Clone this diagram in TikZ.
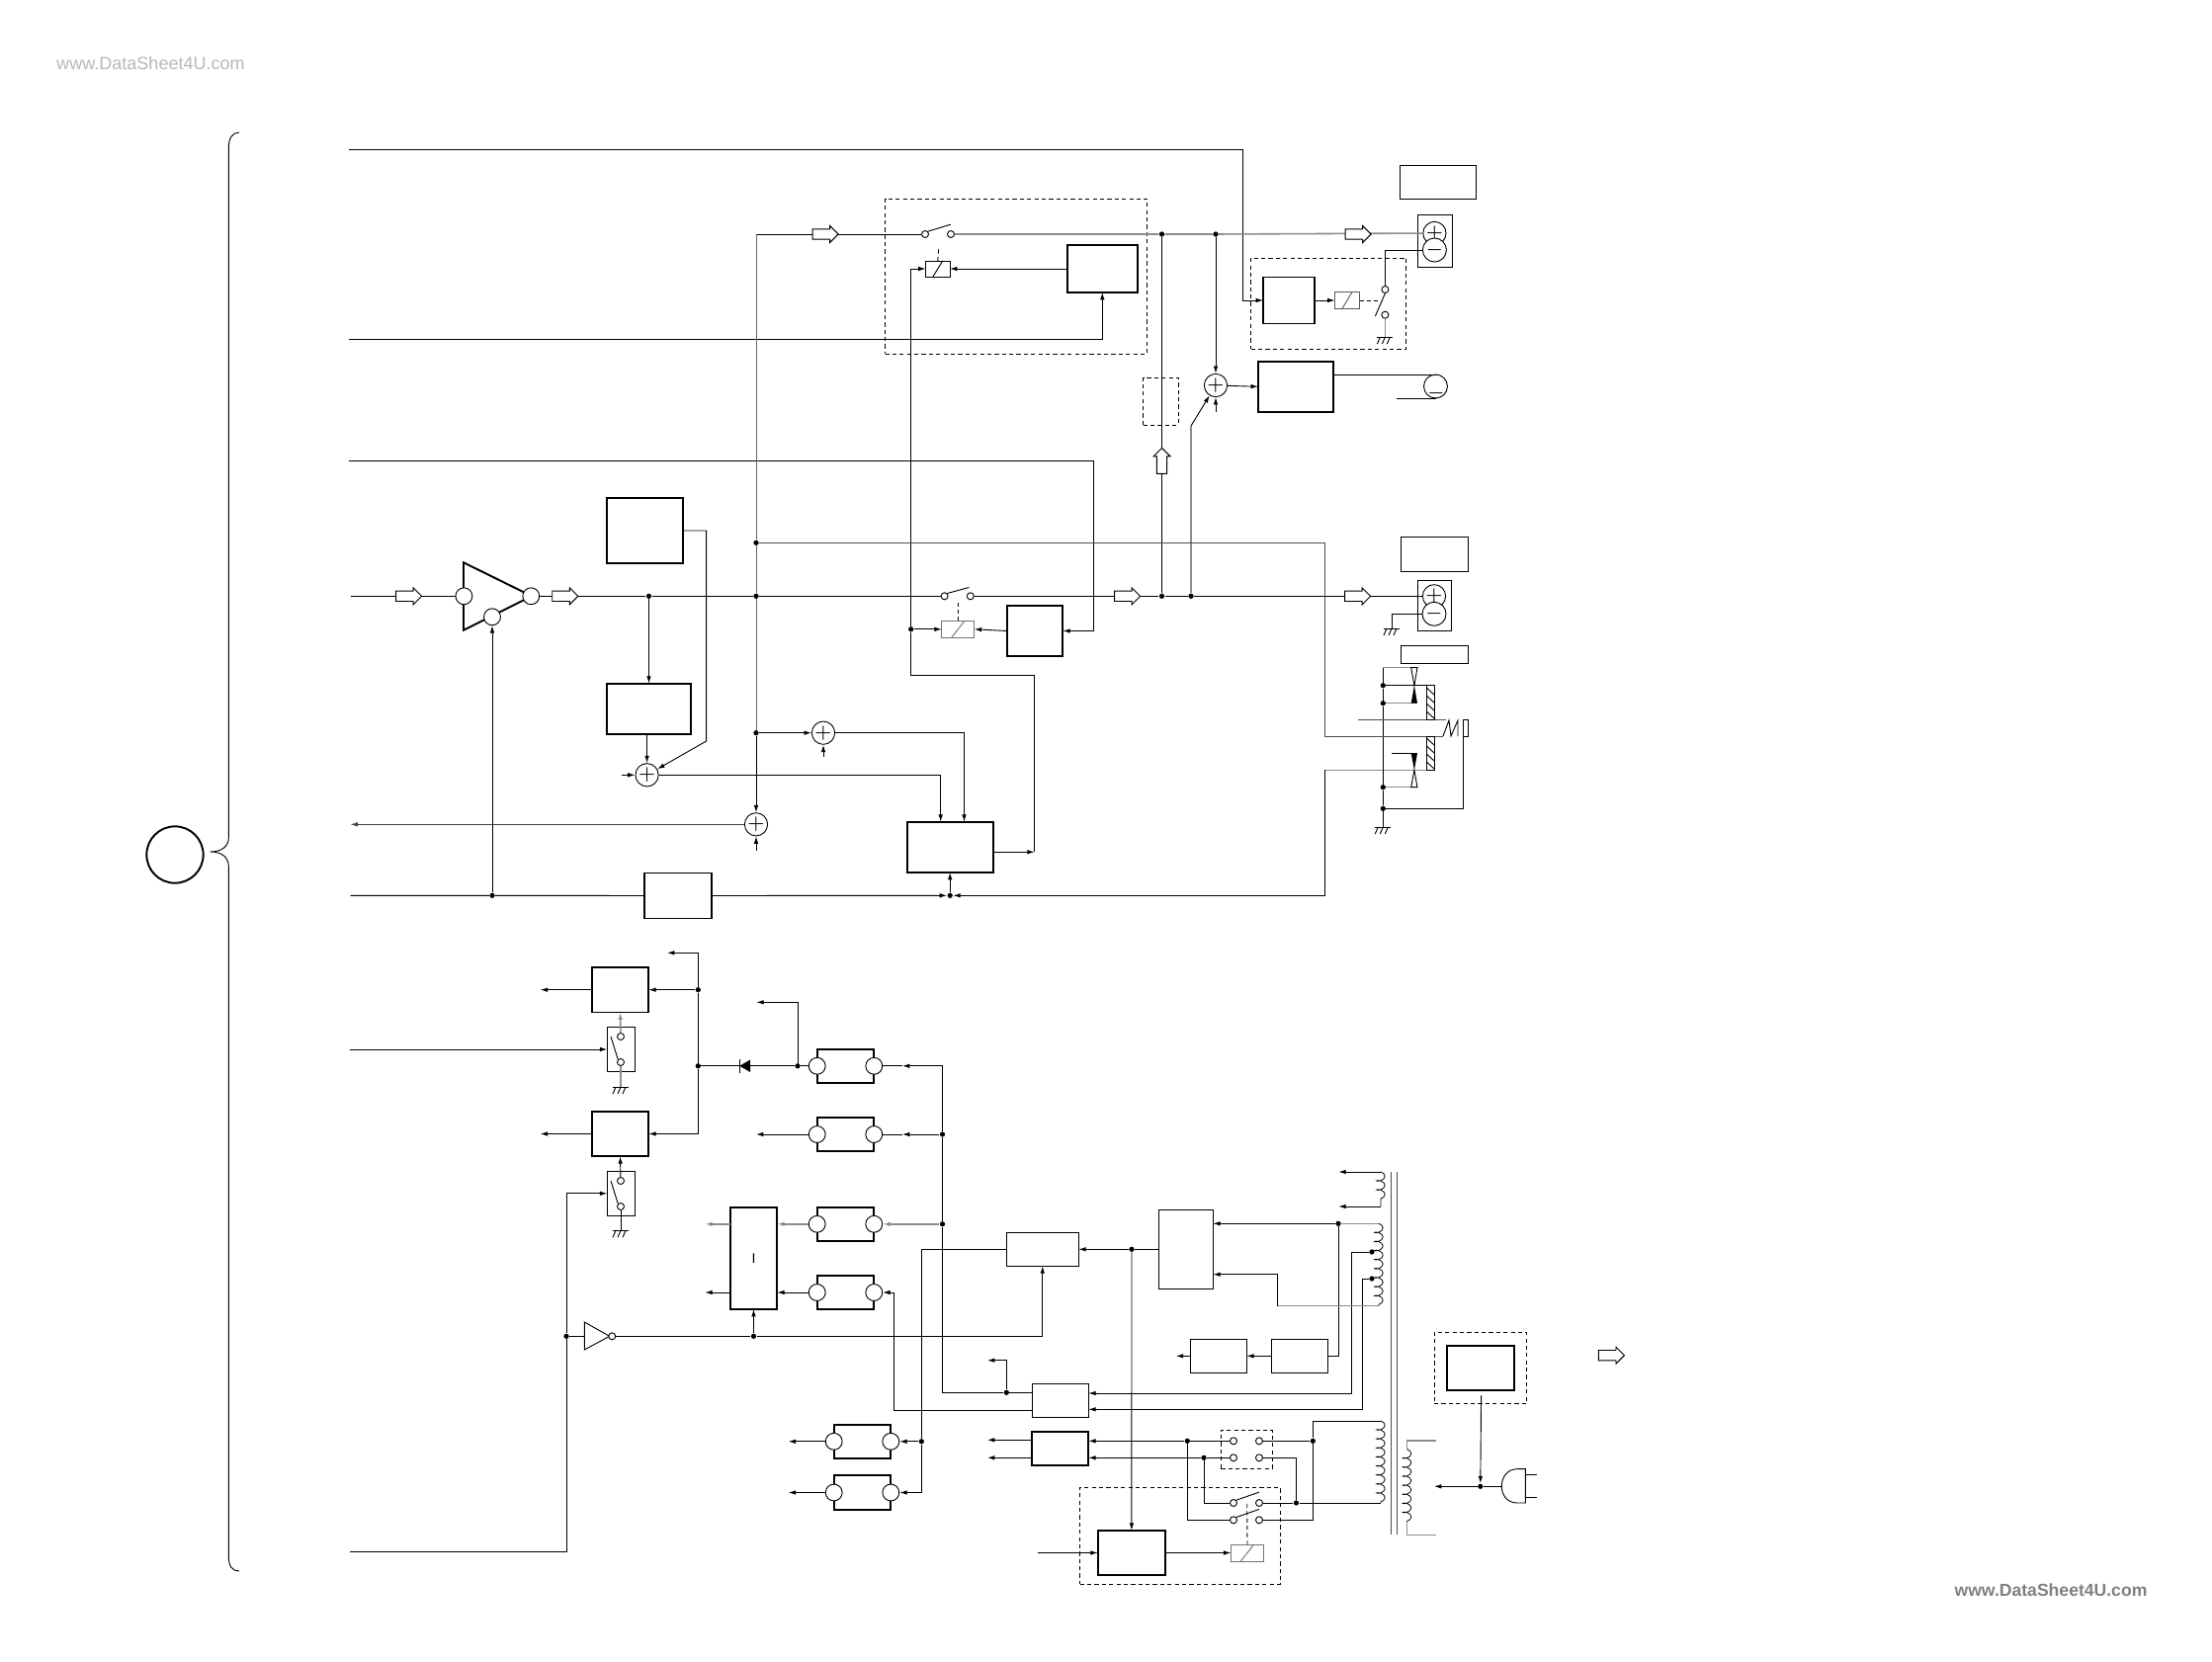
\documentclass[tikz,border=0pt]{standalone}
\usepackage{fontspec}
\setmainfont{Liberation Sans}
\usetikzlibrary{arrows.meta,calc,decorations.pathmorphing,shapes.arrows}

\begin{document}
\begin{tikzpicture}[>=Latex, x=0.01cm, y=-0.01cm, line width=.26pt,
    wh/.style 2 args={minimum width=#1*0.01cm, minimum height=#2*0.01cm},
    block/.style={draw, rectangle, inner sep=0pt, outer sep=0pt, line width=.55pt},
    thinblock/.style={draw, rectangle, inner sep=0pt, outer sep=0pt},
    dashbox/.style={draw, rectangle, inner sep=0pt, dash pattern=on 1.2pt off .9pt},
    relay/.style={thinblock, path picture={\draw ($(path picture bounding box.south west)!.3!(path picture bounding box.south east)$) -- ($(path picture bounding box.north west)!.7!(path picture bounding box.north east)$);}},
    arrow/.style={-{Latex[length=2.1pt,width=1.3pt]}},
    faint/.style={draw=black!45, line width=.45pt},
    linkdash/.style={dash pattern=on 1.2pt off .9pt},
    dot/.style={circle, fill=black, inner sep=0pt, minimum size=1.5pt},
    term/.style={circle, draw, fill=white, inner sep=0pt, minimum size=2pt},
    port/.style={circle, draw, fill=white, inner sep=0pt, minimum size=4.8pt},
    sumj/.style={circle, draw, fill=white, inner sep=0pt, minimum size=4.8pt, font=\fontsize{5}{5}\selectfont},
    hollow/.style={single arrow, draw, fill=white, inner sep=1.3pt, minimum width=4.8pt, minimum height=7.4pt, single arrow head extend=.9pt},
    winding/.style={decorate, decoration={coil, aspect=.5, amplitude=1.2pt, segment length=2.6pt}, line width=.22pt},
    gnd/.pic={\draw (-8,0) -- (8,0); \foreach \i in {-5,0,5} \draw (\i,0) -- (\i-3,7);}
  ]
    \useasboundingbox (0,0) rectangle (2238,1682);
    \node[text=black!28, font=\fontsize{5.13}{6}\selectfont] (wmA) at (152.5,64) {www.DataSheet4U.com};
    \node[text=black!50, font=\fontsize{5}{6}\selectfont\bfseries] (wmB) at (2075,1609) {www.DataSheet4U.com};

    \node[dashbox, wh={265}{157}] (areaA) at (1028,279.5) {};
    \node[dashbox, wh={157}{92}] (areaB) at (1344.2,307) {};
    \node[dashbox, wh={35.4}{48}] (areaC) at (1174.3,406) {};
    \node[dashbox, wh={52}{39}] (areaD) at (1261.3,1466.8) {};
    \node[dashbox, wh={202.8}{98}] (areaE) at (1194,1554.3) {};
    \node[dashbox, wh={93.5}{72}] (areaF) at (1497.8,1384.3) {};

    \node[circle, draw, line width=.55pt, inner sep=0pt, minimum size=16.3pt] (cir) at (177,865) {};
    \node[block, wh={71.4}{48}] (ctl) at (1115.3,272) {};
    \node[block, wh={52}{47}] (dly) at (1304,304) {};
    \node[block, wh={76}{51.3}] (mot) at (1311,391.3) {};
    \node[thinblock, wh={77}{34}] (labA) at (1455,184) {};
    \node[thinblock, wh={35}{53}] (conA) at (1451.5,243.5) {};
    \node[thinblock, wh={68.7}{35}] (labB) at (1451.3,560.5) {};
    \node[thinblock, wh={34.7}{51}] (conB) at (1451.3,612.5) {};
    \node[thinblock, wh={68.7}{17.7}] (labC) at (1451.3,662.8) {};
    \node[block, wh={77}{66.6}] (blkA) at (652.4,537) {};
    \node[block, wh={85.3}{51.3}] (blkB) at (656.5,717.3) {};
    \node[block, wh={86.8}{51.3}] (blkC) at (961.2,857.3) {};
    \node[block, wh={56.7}{51.6}] (blkD) at (1047,638.5) {};
    \node[block, wh={68.8}{46}] (blkE) at (686,906.5) {};
    \node[block, wh={57.6}{45.6}] (blkF) at (627.5,1001.7) {};
    \node[block, wh={57.6}{45.6}] (blkG) at (627.5,1147.5) {};
    \node[thinblock, wh={28.4}{45.4}] (swA) at (628.5,1062) {};
    \node[thinblock, wh={28.4}{45}] (swB) at (628.5,1207.8) {};
    \node[block, wh={47.6}{103.3}, font=\fontsize{4}{4}\selectfont] (blkI) at (762.5,1273.3) {I};
    \node[thinblock, wh={73}{34}] (blkJ) at (1054.8,1264.3) {};
    \node[thinblock, wh={54.9}{80}] (blkK) at (1199.9,1264.3) {};
    \node[thinblock, wh={57}{34}] (blkM) at (1072.8,1417.3) {};
    \node[block, wh={57}{34.3}] (blkN) at (1072.8,1465.9) {};
    \node[block, wh={68.3}{45.6}] (blkL) at (1144.9,1571.5) {};
    \node[thinblock, wh={56.6}{34}] (blkP) at (1233,1372.3) {};
    \node[thinblock, wh={57}{34}] (blkQ) at (1315.1,1372.3) {};
    \node[block, wh={68.2}{45.6}] (fus) at (1497.9,1384.5) {};

    \node[relay, wh={24.4}{16}] (relA) at (948.8,272) {};
    \node[relay, wh={25}{16.7}, draw=black!65] (relB) at (1363,304) {};
    \node[relay, wh={33}{17}, draw=black!55] (relC) at (969.3,636.8) {};
    \node[relay, wh={33.3}{17}, draw=black!55] (relD) at (1262,1571.5) {};

    \foreach \nm/\xx/\yy in {regA/855.5/1078.8, regB/855.5/1148, regC/855.5/1238.8, regD/855.5/1308, regE/872.5/1458.8, regF/872.5/1510.5}{
      \node[block, wh={57.6}{34.3}] (\nm) at (\xx,\yy) {};
      \node[port] (\nm l) at (\nm.west) {};
      \node[port] (\nm r) at (\nm.east) {};
    }

    \draw[line width=.55pt] (469,569.3) -- (538,603.3) -- (469,637.7) -- cycle;
    \draw (591.3,1338) -- (616.7,1352.3) -- (591.3,1366) -- cycle;

    \foreach \nm/\xx/\yy in {ampI/469.4/603.3, ampO/537.3/603.3, ampF/498/624.3}
      \node[port] (\nm) at (\xx,\yy) {};
    \foreach \nm/\xx/\yy in {sumA/1230/390, sumB/654.6/784.3, sumC/833/741.7, sumD/765/834.3, plusA/1451.4/236, plusB/1451/603.3}
      \node[sumj] (\nm) at (\xx,\yy) {$+$};
    \foreach \nm/\xx/\yy in {minA/1451.4/253, minB/1451/621.3}
      \node[sumj] (\nm) at (\xx,\yy) {$-$};
    \node[circle, draw, inner sep=0pt, minimum size=6.8pt] (mtr) at (1452.5,391) {};
    \node[inner sep=0pt, font=\fontsize{5}{5}\selectfont] (mtrm) at (1453,398) {$-$};

    \foreach \nm/\xx/\yy in {tA/936/237, tB/962/237, tC/1401.4/293, tD/1401.4/318.7, tE/955.6/603.3, tF/981.8/603.3, tG/628/1049, tH/628/1075, tJ/628/1195, tK/628/1221, tL/1248/1458.3, tM/1274/1458.3, tN/1248/1475.3, tO/1274/1475.3, tP/1248/1521, tQ/1274/1521, tR/1248/1538.3, tS/1274/1538.3, tinv/619.3/1352.3}
      \node[term] (\nm) at (\xx,\yy) {};

    \foreach \nm/\xx/\yy in {jA/1175.5/237, jB/1230/237, jC/765/549.3, jD/765/603.3, jE/765/741.7, jF/656.5/603.3, jG/1175.5/603.3, jH/1205/603.3, jI/921.7/636.8, jJ/961.2/906.3, jK/498/906.3, jL/1399.3/693.7, jM/1399.3/711.7, jN/1399.3/796.7, jO/1399.3/818.3, kA/706.3/1001.7, kB/706.3/1078.8, kC/807/1078.8, kD/953.5/1148, kE/953.5/1238.8, kF/762.5/1352.3, kG/573/1352.3, kH/932.3/1458.8, kI/1145/1264.3, kJ/1018.3/1409.3, kK/1354/1238.3, kL/1388/1267, kM/1388/1294, kN/1201.3/1458.3, kO/1218/1475.3, kP/1328.3/1458.3, kQ/1311.5/1521, kR/1497.8/1504.3}
      \node[dot] (\nm) at (\xx,\yy) {};

    \foreach \nm/\xx/\yy in {inA/353/151, cA/1257.5/304, inB/353/343, inC/353/466, cC/1106.7/638.5, inD/354.5/603.3, inE/354.5/906.3, outA/354.5/834.3, topA/765/237, cD/714.7/537, cE/714.7/750, sumBl/629.4/784.3, cinA/951.7/831.7, cinB/975.5/831.7, sumCb/833/765.7, sumDb/765/860.7, sumAb/1230/417, cF/1205/431, cG/1340/779.3, hkB/1451/779.3, coA/1004.6/862.3, coB/1046.7/862.3, coC/1046.7/683.3, coD/921.7/683.3, coE/921.7/272, motA/1349/379, motB/1452.5/379, motC/1412.6/403, motD/1452.5/403, dashA/1396/304, gndA/1401.4/341, gndB/1408/636, gndC/1399.3/837, gndD/628/1100, gndE/628/1245.3, busT/1399.3/675.7, hgA/1434/675.7, hkA/1451/693.7, hgB/1434/711.7, hgC/1434/796.7, hgD/1408.3/762.3, hgE/1434/762.3, cH/1340/549.3, cI/1340/745, zA/1460/745, zB/1466/729, zC/1468/745, zD/1475/729, zE/1475/745, rodA/1374/728, rodB/1463/728, cJ/1480.7/818.3, cK/1480.7/745}
      \coordinate (\nm) at (\xx,\yy);

    \foreach \nm/\xx/\yy in {outB/546.7/1001.7, outC/546.7/1147.5, outD/675/964.3, cL/706.3/964.3, cM/706.3/1147.5, inF/354/1062, inG/354/1570, cN/573/1570, cO/573/1207.8, outE/765.3/1014.3, cP/807/1014.3, cQ/953.5/1078.8, tipA/913/1078.8, tipB/913/1148, outF/765/1148, iA/786.3/1238.8, iB/786.3/1308, outG/713.3/1238.8, outH/713.3/1308, iC/738.7/1238.8, iD/738.7/1308, cR/904.3/1308, cS/904.3/1427.7, mA/1044.3/1427.7, mB/1044.3/1409.3, cT/953.5/1409.3, cU/1018.3/1376.7, outJ/999/1376.7, cV/932.3/1264.3, cW/932.3/1510.5, outK/797.7/1458.8, outM/797.7/1510.5, inH/1050/1571.5, nA/1044.3/1457.3, nB/1044.3/1475.3, outN/999/1457.3, outO/999/1475.3, nC/1101.3/1458.3, nD/1101.3/1475.3, cX/1378.4/1294, cY/1378.4/1426.3, mC/1101.3/1426.3, cZ/1367.3/1267, dA/1367.3/1410, mD/1101.3/1410, kA1/1227.3/1238.3, wBt/1395/1238.3, wBb/1395/1321.7, dB/1292.3/1321.7, dC/1292.3/1289.7, kA2/1227.3/1289.7, wAt/1397/1186, wAb/1397/1221, outP/1354.3/1186, outQ/1354.3/1221, wCt/1397/1438, wCb/1397/1521, dD/1328.3/1438, dE/1328.3/1538.3, dF/1311.5/1475.3, dG/1218/1521, dH/1201.3/1538.3, dashB/1261.7/1521, fusB/1498.6/1412.3, plugL/1519.3/1504.3, outR/1451/1504.3, prTa/1453/1458, prTb/1423.6/1458, prTc/1423.6/1466.7, prBc/1423.6/1540, prBb/1423.6/1553.3, prBa/1453/1553.3, outS/1189.8/1372.3, coreA/1407.5/1186, coreB/1407.5/1553.3, coreC/1413.3/1186, coreD/1413.3/1553.3, rungA/1543.4/1492.3, rungB/1555.3/1492.3, rungC/1543.4/1515.3, rungD/1555.3/1515.3}
      \coordinate (\nm) at (\xx,\yy);

    \draw[arrow] (inA) -| (cA) -- (dly.west);
    \draw[arrow] (inB) -| (ctl.south);
    \draw[arrow] (inC) -| (cC) -- (blkD.east);
    \draw (inD) -- (ampI);
    \draw (ampO) -- (jF) -- (jD) -- (tE);
    \draw (tF) -- (jG) -- (jH) -- (plusB);
    \draw (topA) -- (tA);
    \draw[faint] (tB) -- (jA) -- (jB) -- (plusA);
    \draw[draw=black!60] (topA) -- (jC) -- (jD) -- (jE);
    \draw[arrow] (jE) -- (sumD);
    \draw[arrow] (jF) -- (blkB.north);
    \draw[arrow] (blkA.east) -- (cD) -- (cE) -- (sumB);
    \draw[arrow] (sumB |- blkB.south) -- (sumB);
    \draw[arrow] (sumBl) -- (sumB);
    \draw[arrow] (sumB) -| (cinA);
    \draw[arrow] (jE) -- (sumC);
    \draw[arrow] (sumC) -| (cinB);
    \draw[arrow] (sumCb) -- (sumC);
    \draw[arrow] (sumDb) -- (sumD);
    \draw[arrow, draw=black!75] (sumD) -- (outA);
    \draw (inE) -- (jK) -- (blkE.west);
    \draw[arrow] (blkE.east) -- (jJ);
    \draw[arrow] (jJ) -- (blkC.south);
    \draw[arrow] (jK) -- (ampF);
    \draw[faint] (hkB) -- (cG);
    \draw[arrow] (cG) |- (jJ);
    \draw[arrow] (coA) -- (coB);
    \draw (coB) -- (coC) -- (coD) -- (jI) -- (coE);
    \draw[arrow] (coE) -- (relA.west);
    \draw[arrow] (jI) -- (relC.west);
    \draw[arrow] (ctl.west) -- (relA.east);
    \draw[arrow] (blkD.west) -- (relC.east);
    \draw[linkdash] (relA.north) -- ++(1,-14);
    \draw[linkdash] (relC.north) -- ++(0,-18);
    \draw (tA.north east) -- ++(23,-7);
    \draw (tE.north east) -- ++(22,-6);
    \draw[arrow] (dly.east) -- (relB.west);
    \draw[linkdash] (relB.east) -- (dashA);
    \draw (minA) -| (tC);
    \draw (tC.south) -- ++(-10,23);
    \draw[faint] (tD) -- (gndA);
    \pic at (gndA) {gnd};
    \draw[arrow] (jB) -- (sumA);
    \draw[arrow] (sumAb) -- (sumA);
    \draw[faint] (jH) -- (cF);
    \draw[arrow] (cF) -- (sumA);
    \draw[arrow] (sumA) -- (mot.west);
    \draw (motA) -- (motB);
    \draw (motC) -- (motD);
    \draw (jA) -- (jG);
    \draw (minB) -| (gndB);
    \pic at (gndB) {gnd};

    \draw (busT) -- (jL) -- (jM) -- (jN) -- (jO) -- (gndC);
    \pic at (gndC) {gnd};
    \draw[faint] (busT) -- (hgA);
    \draw (jL) -- (hkA);
    \draw[faint] (jM) -- (hgB);
    \draw[faint] (jN) -- (hgC);
    \draw (hgD) -- (hgE);
    \draw[draw=black!70] (jC) -- (cH) -- (cI) -- (zA);
    \draw (zA) -- (zB) -- (zC) -- (zD) -- (zE);
    \draw[draw=black!70] (rodA) -- (rodB);
    \draw (jO) -- (cJ) -- (cK);
    \draw (1480,728) rectangle (1485.7,745);
    \draw (1443.3,693.7) rectangle (1451,728);
    \draw (1443.3,745) rectangle (1451,779.3);
    \foreach \yy in {696,704,712,720} \draw (1443.3,\yy) -- (1451,\yy+7);
    \foreach \yy in {747,755,763,771} \draw (1443.3,\yy) -- (1451,\yy+7);
    \draw (1427.7,675.7) -- (1434,675.7) -- (1430.9,693.7) -- cycle;
    \fill (1430.9,693.7) -- (1434,711.7) -- (1427.7,711.7) -- cycle;
    \fill (1427.7,762.3) -- (1434,762.3) -- (1430.9,779.3) -- cycle;
    \draw (1430.9,779.3) -- (1434,796.7) -- (1427.7,796.7) -- cycle;

    \draw[arrow] (kA) -- (blkF.east);
    \draw[arrow] (blkF.west) -- (outB);
    \draw[arrow] (kB) -- (kA) -- (cL) -- (outD);
    \draw[arrow] (kB) -- (cM) -- (blkG.east);
    \draw[arrow] (blkG.west) -- (outC);
    \draw[arrow, faint] (tG) -- (blkF.south);
    \draw[faint] (tH) -- (gndD);
    \pic at (gndD) {gnd};
    \draw (tG.west) ++(-6,0) -- (tH.north west);
    \draw[arrow] (inF) -- (swA.west);
    \draw[arrow] (tJ) -- (blkG.south);
    \draw (tK) -- (gndE);
    \pic at (gndE) {gnd};
    \draw (tJ.west) ++(-6,0) -- (tK.north west);
    \draw[arrow] (inG) -- (cN) -- (kG) -- (cO) -- (swB.west);
    \draw (kG) -- (591.3,1352.3);
    \draw (tinv) -- (kF);
    \draw[arrow] (kF) -| (blkJ.south);
    \draw[arrow] (kF) -- (blkI.south);
    \draw (kC) -- (kB);
    \fill (759,1072.5) -- (759,1085) -- (748.3,1078.8) -- cycle;
    \draw (748.3,1072) -- (748.3,1085.5);
    \draw (kC) -- (regAl);
    \draw[arrow] (kC) -- (cP) -- (outE);
    \draw[arrow] (cQ) -- (tipA);
    \draw (tipA) -- (regAr);
    \draw[arrow] (kD) -- (tipB);
    \draw (tipB) -- (regBr);
    \draw[arrow] (regBl) -- (outF);
    \draw[arrow, faint] (kE) -- (regCr);
    \draw[arrow, faint] (regCl) -- (iA);
    \draw[arrow, faint] (iC) -- (outG);
    \draw[arrow] (regDl) -- (iB);
    \draw[arrow] (iD) -- (outH);
    \draw[arrow] (cR) -- (regDr);
    \draw (cR) -- (cS) -- (mA);
    \draw (cQ) -- (kD) -- (kE) -- (cT) -- (kJ) -- (mB);
    \draw[arrow] (kJ) -- (cU) -- (outJ);
    \draw (blkJ.west) -- (cV) -- (kH);
    \draw[arrow] (kH) -- (cW) -- (regFr);
    \draw[arrow] (kH) -- (regEr);
    \draw[arrow] (regEl) -- (outK);
    \draw[arrow] (regFl) -- (outM);
    \draw (blkK.west) -- (kI);
    \draw[arrow] (kI) -- (blkJ.east);
    \draw[arrow] (kI) -- (blkL.north);
    \draw[arrow] (inH) -- (blkL.west);
    \draw[arrow] (blkL.east) -- (relD.west);
    \draw[arrow] (nA) -- (outN);
    \draw[arrow] (nB) -- (outO);
    \draw[arrow] (kN) -- (nC);
    \draw[arrow] (kO) -- (nD);
    \draw[arrow] (kM) -- (cX) -- (cY) -- (mC);
    \draw[arrow] (kL) -- (cZ) -- (dA) -- (mD);
    \draw[faint] (wBt) -- (kK);
    \draw[arrow] (kK) -- (kA1);
    \draw (kK) |- (blkQ.east);
    \draw[arrow] (blkQ.west) -- (blkP.east);
    \draw[arrow] (blkP.west) -- (outS);
    \draw[faint] (wBb) -- (dB);
    \draw[arrow] (dB) -- (dC) -- (kA2);
    \draw[arrow] (wAt) -- (outP);
    \draw[arrow] (wAb) -- (outQ);
    \draw (wCt) -- (dD) -- (kP) -- (dE) -- (tS);
    \draw (kP) -- (tM);
    \draw (tL) -- (kN);
    \draw (tN) -- (kO);
    \draw (tO) -- (dF) -- (kQ);
    \draw (kQ) -- (tQ);
    \draw (kQ) -- (wCb);
    \draw (kO) -- (dG) -- (tP);
    \draw (kN) -- (dH) -- (tR);
    \draw (tP.north east) -- ++(23,-8);
    \draw (tR.north east) -- ++(23,-8);
    \draw[linkdash] (relD.north) -- (dashB);
    \draw[arrow] (fusB) -- (kR);
    \draw (plugL) -- (kR);
    \draw[arrow] (kR) -- (outR);
    \draw (1543.4,1486.7) -- (1535,1486.7) .. controls (1525,1486.7) and (1519.3,1495) .. (plugL) .. controls (1519.3,1513) and (1525,1521) .. (1535,1521) -- (1543.4,1521) -- cycle;
    \draw (rungA) -- (rungB);
    \draw (rungC) -- (rungD);
    \draw[draw=black!70] (coreA) -- (coreB);
    \draw[draw=black!70] (coreC) -- (coreD);
    \draw[winding] (wAt) -- (wAb);
    \draw[winding] (wBt) -- (wBb);
    \draw[winding] (wCt) -- (wCb);
    \draw[faint] (prTa) -- (prTb) -- (prTc);
    \draw[winding] (prTc) -- (prBc);
    \draw[faint] (prBc) -- (prBb) -- (prBa);

    \draw (242,134) .. controls (235,134) and (231.3,140) .. (231.3,150) -- (231.3,848) .. controls (231.3,856) and (225,862) .. (212.7,862) .. controls (225,862) and (231.3,868) .. (231.3,877) -- (231.3,1575) .. controls (231.3,1585) and (235,1590) .. (242,1590);

    \foreach \nm/\xx/\yy in {hoA/411/603.3, hoB/569.2/603.3, hoC/832.5/237, hoD/1371.5/237, hoE/1138/603.3, hoF/1371/603.3, hoG/1627.8/1371.7}
      \node[hollow] (\nm) at (\xx,\yy) {};
    \node[hollow, rotate=90] (hoH) at (1175.5,469) {};
  \end{tikzpicture}
\end{document}
